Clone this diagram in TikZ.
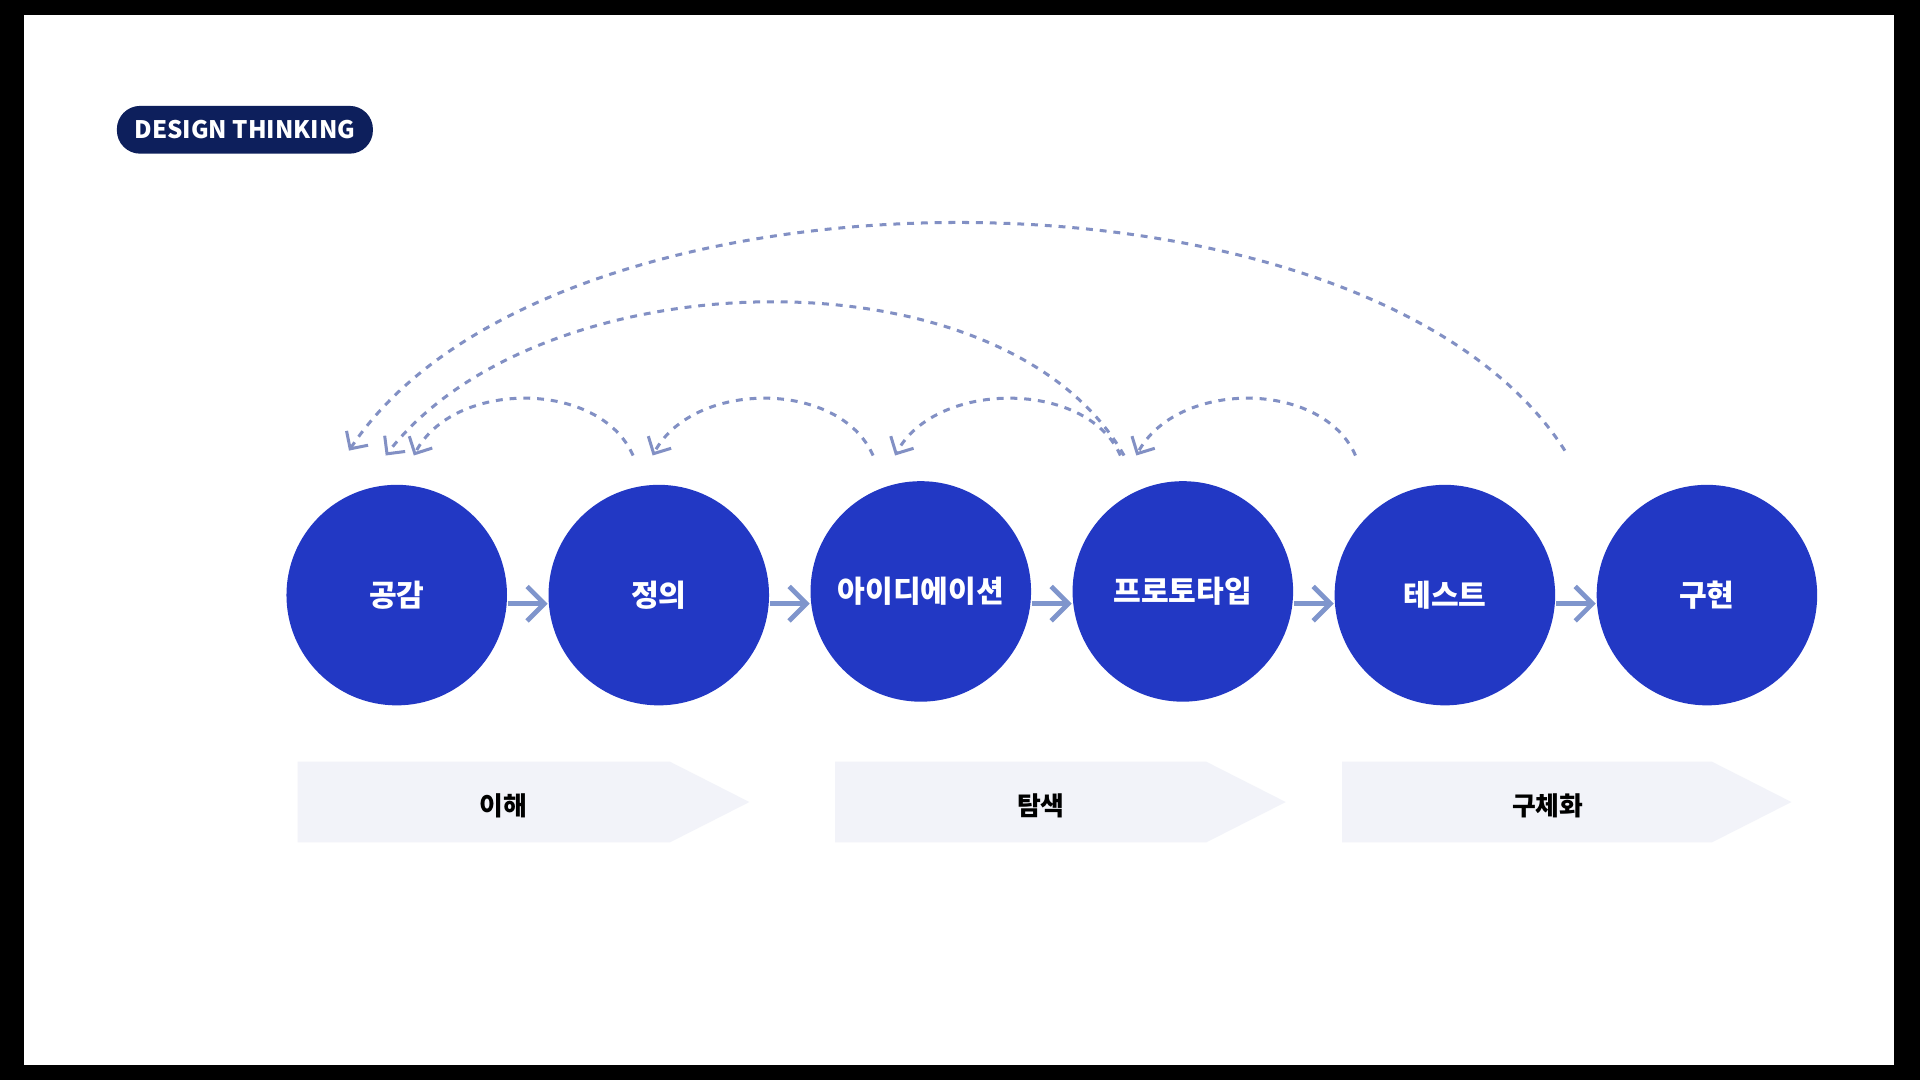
\documentclass[tikz,border=0pt]{standalone}
\usepackage{fontspec}
\setmainfont{Noto Sans CJK KR}
\usetikzlibrary{arrows.meta}
\definecolor{stepblue}{HTML}{2238C4}
\definecolor{arrowblue}{HTML}{7F95CC}
\definecolor{dashblue}{HTML}{8290C4}
\definecolor{chevgray}{HTML}{F2F3F9}
\definecolor{pillnavy}{HTML}{0D1F5C}
\begin{document}
\begin{tikzpicture}[x=0.01cm,y=-0.01cm,
  stepcircle/.style={circle,fill=stepblue,minimum size=1.8cm,inner sep=0pt,text=white,font=\fontsize{7}{8}\selectfont\bfseries},
  flow/.style={arrowblue,line width=1.1pt,-{Straight Barb[length=4pt,width=8pt,line width=1.1pt]}},
  back/.style={dashblue,dashed,dash pattern=on 1.6pt off 1.6pt,line width=0.7pt,-{Straight Barb[length=3pt,width=6pt]}},
  phase/.style={font=\fontsize{6}{7}\selectfont\bfseries}]

% The frame
\fill[black] (0,0) rectangle (1568,882);
\fill[white] (20,12) rectangle (1547,870);

% The label
\node[fill=pillnavy,rounded corners=0.19cm,minimum width=2.09cm,minimum height=0.39cm,text=white,font=\fontsize{5.6}{6}\selectfont\bfseries] (title) at (200,106) {DESIGN THINKING};

% The steps
\node[stepcircle] (gong) at (324,486) {공감};
\node[stepcircle] (jeong) at (538,486) {정의};
\node[stepcircle] (idea) at (752,483) {아이디에이션};
\node[stepcircle] (proto) at (966,483) {프로토타입};
\node[stepcircle] (test) at (1180,486) {테스트};
\node[stepcircle] (impl) at (1394,486) {구현};

% The forward arrows
\draw[flow] (gong.east |- 0,493) -- (jeong.west |- 0,493);
\draw[flow] (jeong.east |- 0,493) -- (idea.west |- 0,493);
\draw[flow] (idea.east |- 0,493) -- (proto.west |- 0,493);
\draw[flow] (proto.east |- 0,493) -- (test.west |- 0,493);
\draw[flow] (test.east |- 0,493) -- (impl.west |- 0,493);

% The loop ends
\coordinate (a1) at (285,368);
\coordinate (a2) at (315,372);
\coordinate (a3) at (338,372);
\coordinate (b1) at (517,372);
\coordinate (b2) at (533,372);
\coordinate (c1) at (713,372);
\coordinate (c2) at (731,372);
\coordinate (d1) at (915,372);
\coordinate (d2) at (928,372);
\coordinate (d3) at (918,372);
\coordinate (e1) at (1107,372);
\coordinate (f1) at (1278,368);

% The loops back
\draw[back] (b1) .. controls (490,310) and (370,310) .. (a3);
\draw[back] (c1) .. controls (686,310) and (566,310) .. (b2);
\draw[back] (d1) .. controls (888,310) and (764,310) .. (c2);
\draw[back] (e1) .. controls (1080,310) and (961,310) .. (d2);
\draw[back] (d3) .. controls (820,200) and (440,210) .. (a2);
\draw[back] (f1) .. controls (1120,120) and (450,120) .. (a1);

% The phases
\fill[chevgray] (243,622) -- (547,622) -- (612,655) -- (547,688) -- (243,688) -- cycle;
\fill[chevgray] (682,622) -- (985,622) -- (1050,655) -- (985,688) -- (682,688) -- cycle;
\fill[chevgray] (1096,622) -- (1398,622) -- (1463,655) -- (1398,688) -- (1096,688) -- cycle;
\node[phase] (p1) at (411,658) {이해};
\node[phase] (p2) at (850,658) {탐색};
\node[phase] (p3) at (1264,658) {구체화};

\end{tikzpicture}
\end{document}
